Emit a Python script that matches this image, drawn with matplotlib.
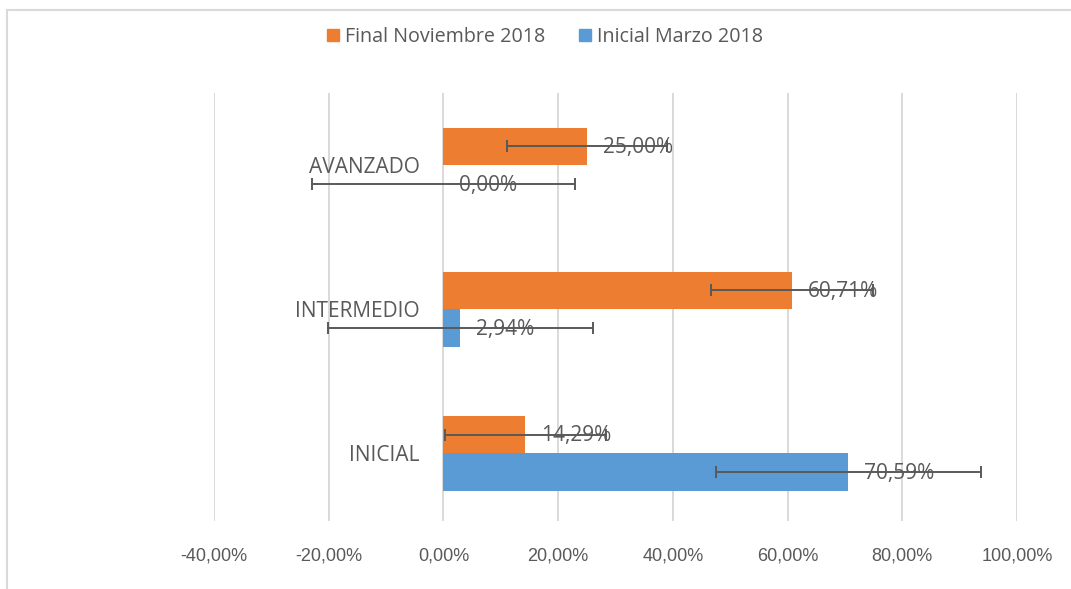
import numpy as np
import matplotlib
matplotlib.use("Agg")
import matplotlib.pyplot as plt
from matplotlib.patches import Patch
from matplotlib.lines import Line2D
from matplotlib.ticker import FuncFormatter

# datos
categorias = ["INICIAL", "INTERMEDIO", "AVANZADO"]
final_nov = [14.29, 60.71, 25.00]      # Final Noviembre 2018
inicial_mar = [70.59, 2.94, 0.00]      # Inicial Marzo 2018
err_final = [14.1, 14.1, 14.0]
err_inicial = [23.1, 23.1, 23.0]
xticks = [-40, -20, 0, 20, 40, 60, 80, 100]

naranja = "#ED7D31"
azul = "#5B9BD5"
gris = "#595959"
txt_font = ["Open Sans", "DejaVu Sans"]

fig = plt.figure(figsize=(10.71, 5.89), dpi=100)
ax = fig.add_axes([214 / 1071, 1 - 521 / 589, (1017 - 214) / 1071, (521 - 93) / 589])

y = np.arange(len(categorias))
h = 0.26

ax.barh(y + h / 2, final_nov, height=h, color=naranja, zorder=3)
ax.barh(y - h / 2, inicial_mar, height=h, color=azul, zorder=3)

ax.errorbar(final_nov, y + h / 2, xerr=err_final, fmt="none", ecolor=gris,
            elinewidth=1.4, capsize=4.3, capthick=1.4, zorder=4)
ax.errorbar(inicial_mar, y - h / 2, xerr=err_inicial, fmt="none", ecolor=gris,
            elinewidth=1.4, capsize=4.3, capthick=1.4, zorder=4)

def pct(v):
    return "{:.2f}%".format(v).replace(".", ",")

for yy, v in zip(y + h / 2, final_nov):
    ax.annotate(pct(v), (v, yy), xytext=(11.5, -1), textcoords="offset points",
                ha="left", va="center", fontsize=15, color=gris,
                family=txt_font, zorder=5)
for yy, v in zip(y - h / 2, inicial_mar):
    ax.annotate(pct(v), (v, yy), xytext=(11.5, -1), textcoords="offset points",
                ha="left", va="center", fontsize=15, color=gris,
                family=txt_font, zorder=5)

ax.set_xlim(-40, 100)
ax.set_ylim(-0.47, 2.5)
ax.set_xticks(xticks)
ax.xaxis.set_major_formatter(FuncFormatter(lambda v, p: pct(v)))
ax.set_yticks(y)
ax.set_yticklabels(categorias)

for s in ["top", "right", "bottom"]:
    ax.spines[s].set_visible(False)
ax.spines["left"].set_position(("data", 0))
ax.spines["left"].set_visible(False)

ax.tick_params(axis="y", length=0, pad=17, labelcolor=gris, labelsize=15)
ax.tick_params(axis="x", length=0, pad=19, labelcolor=gris, labelsize=13)
for t in ax.get_yticklabels():
    t.set_family(txt_font)
for t in ax.get_xticklabels():
    t.set_family(["Liberation Sans", "DejaVu Sans"])

ax.grid(axis="x", color="#D9D9D9", linewidth=1.4, zorder=0)
ax.set_axisbelow(True)

handles = [Patch(color=naranja, label="Final Noviembre 2018"),
           Patch(color=azul, label="Inicial Marzo 2018")]
fig.legend(handles=handles, loc="center", bbox_to_anchor=(545 / 1071, 1 - 37 / 589),
           ncol=2, frameon=False, handlelength=0.6, handleheight=0.6,
           handletextpad=0.3, columnspacing=1.7,
           prop={"family": txt_font, "size": 14.2}, labelcolor=gris)

# marco del grafico
fig.add_artist(Line2D([7 / 1071, 1], [1 - 10 / 589, 1 - 10 / 589],
                      color="#D9D9D9", lw=1.5, transform=fig.transFigure))
fig.add_artist(Line2D([7 / 1071, 7 / 1071], [0, 1 - 10 / 589],
                      color="#D9D9D9", lw=1.5, transform=fig.transFigure))

fig.savefig("out.png", dpi=100)
